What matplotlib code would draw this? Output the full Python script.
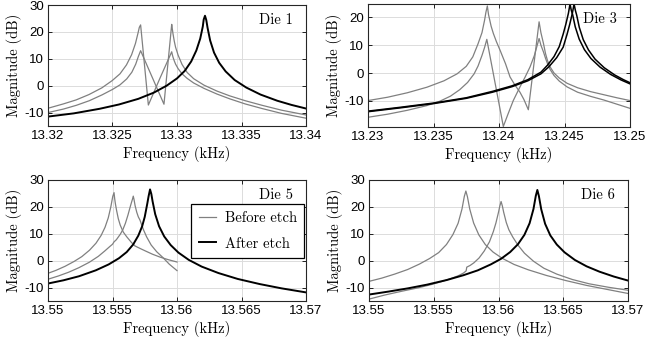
import matplotlib
matplotlib.use('Agg')
import matplotlib.pyplot as plt

plt.rcParams['axes.unicode_minus'] = False

# ---- Die 1 ----
d1_f_a = [13.320, 13.32118, 13.32218, 13.32318, 13.32418, 13.32498, 13.32558, 13.32608, 13.32648, 13.32678,
          13.32698, 13.32708, 13.32718, 13.32778, 13.3287, 13.32959,
          13.32964, 13.32969, 13.32979, 13.32989, 13.33009, 13.33039, 13.33079, 13.33129, 13.33209, 13.33309,
          13.33409, 13.33529, 13.33659, 13.33809, 13.340]
d1_m_a = [-8.4, -6.8, -5.3, -3.3, -0.8, 1.9, 4.4, 7.7, 11.5, 15.7,
          19.6, 21.7, 22.6, -7.2, 3.0, 12.6,
          11.5, 10.6, 9.2, 8.0, 6.3, 4.4, 2.7, 1.0, -1.0, -3.1,
          -4.9, -6.8, -8.5, -10.3, -12.1]
d1_f_b = [13.320, 13.3212, 13.3222, 13.3232, 13.3242, 13.325, 13.32558, 13.3261, 13.3265, 13.3268, 13.3270, 13.32718,
          13.32899, 13.32959,
          13.32964, 13.32969, 13.32979, 13.32989, 13.33009, 13.33039, 13.33079, 13.33129, 13.33209, 13.33309,
          13.33409, 13.33529, 13.33659, 13.33809, 13.340]
d1_m_b = [-10.0, -8.7, -7.3, -5.6, -3.4, -1.4, 0.3, 2.5, 5.0, 8.0, 10.8, 13.0,
          -6.9, 22.8,
          21.0, 19.3, 16.5, 14.3, 11.3, 7.9, 4.9, 2.6, 0.2, -2.0,
          -3.8, -5.6, -7.3, -9.1, -10.9]
d1_f_after = [13.320, 13.322, 13.324, 13.3255, 13.327, 13.3282, 13.3292, 13.330, 13.3306, 13.3311, 13.3315, 13.3318,
              13.3320, 13.33207, 13.33217,
              13.33227, 13.33237, 13.33257, 13.33287, 13.33327, 13.33377, 13.33447, 13.33537, 13.33647, 13.33777,
              13.33887, 13.340]
d1_m_after = [-11.5, -10.3, -8.6, -7.0, -4.9, -2.6, 0.0, 2.7, 5.5, 9.0, 13.1, 17.5,
              22.0, 24.6, 26.0,
              24.4, 21.5, 16.8, 12.3, 8.5, 5.3, 2.1, -0.7, -3.3, -5.6,
              -7.15, -8.5]

# ---- Die 3 ----
d3_f_a = [13.230, 13.2315, 13.233, 13.2345, 13.2358, 13.2368, 13.2375, 13.2380, 13.2384, 13.2387, 13.2389, 13.2390,
          13.23911, 13.2392, 13.2394, 13.23957, 13.2398, 13.24008, 13.2405, 13.24084, 13.2412, 13.2416, 13.2419,
          13.24224, 13.24306, 13.2432, 13.2434, 13.24355, 13.2437, 13.2439, 13.2442, 13.2446, 13.2452, 13.246,
          13.247, 13.248, 13.249, 13.250]
d3_m_a = [-9.9, -8.7, -7.1, -5.1, -2.8, -0.3, 2.4, 5.8, 10.5, 14.5, 19.0, 21.8,
          24.1, 21.0, 16.8, 14.2, 11.3, 8.2, 3.3, -1.4, -4.2, -6.9, -9.5,
          -13.2, 18.4, 14.5, 10.5, 7.0, 4.5, 2.2, 0.0, -1.8, -3.7, -5.3,
          -6.7, -7.8, -8.9, -9.9]
d3_f_b = [13.230, 13.2315, 13.233, 13.2345, 13.2355, 13.2363, 13.2370, 13.2376, 13.2381, 13.2384, 13.2387, 13.2389,
          13.23907, 13.24033, 13.2407, 13.24109, 13.2416, 13.242, 13.24237, 13.2427, 13.24306,
          13.2432, 13.2434, 13.24355, 13.2437, 13.2439, 13.2442, 13.2446, 13.2452, 13.246, 13.247, 13.248,
          13.249, 13.250]
d3_m_b = [-15.9, -14.8, -13.4, -11.7, -10.1, -8.3, -6.0, -3.4, -0.3, 2.5, 6.3, 9.2,
          12.1, -19.2, -14.6, -9.9, -5.0, -1.4, 2.2, 6.3, 12.4,
          10.0, 7.5, 5.3, 3.4, 1.3, -0.9, -2.9, -5.0, -6.9, -8.4, -9.7,
          -11.2, -12.7]
d3_f_after1 = [13.230, 13.2325, 13.235, 13.2375, 13.2395, 13.241, 13.2422, 13.2432, 13.2437, 13.2442, 13.2446,
               13.2449, 13.2451, 13.2453, 13.24542,
               13.24552, 13.24562, 13.24582, 13.24612, 13.24652, 13.24702, 13.24772, 13.24852, 13.24932, 13.250]
d3_m_after1 = [-13.7, -12.3, -10.8, -8.9, -6.6, -4.6, -2.4, 0.3, 2.8, 5.9, 9.5,
               14.0, 17.5, 21.5, 24.8,
               22.5, 21.0, 16.6, 12.2, 8.4, 5.2, 2.1, -0.5, -2.5, -3.9]
d3_f_after2 = [13.230, 13.2325, 13.235, 13.2375, 13.2395, 13.241, 13.2422, 13.2432, 13.2438, 13.2444, 13.2449,
               13.2452, 13.2454, 13.2456, 13.24573,
               13.24583, 13.24593, 13.24613, 13.24643, 13.24683, 13.24733, 13.24803, 13.24883, 13.2495, 13.250]
d3_m_after2 = [-13.9, -12.5, -11.0, -9.1, -6.9, -4.9, -2.8, -0.3, 2.2, 5.5, 9.3,
               14.0, 17.5, 21.5, 24.8,
               22.5, 20.8, 16.4, 12.0, 8.3, 5.0, 1.9, -0.7, -2.4, -3.5]

# ---- Die 5 ----
d5_f_a = [13.550, 13.55062, 13.55132, 13.55202, 13.55262, 13.55322, 13.55372, 13.55412, 13.55442, 13.55467,
          13.55487, 13.55502, 13.55512,
          13.55517, 13.55522, 13.55532, 13.55545, 13.5556, 13.55584, 13.5561, 13.55636, 13.5565, 13.5566,
          13.5567, 13.5569, 13.5572, 13.5576, 13.5581, 13.5587, 13.5593, 13.560]
d5_m_a = [-4.7, -3.6, -2.1, -0.3, 1.5, 3.9, 6.5, 9.4, 12.4, 15.9,
          20.0, 23.9, 25.3,
          23.0, 21.3, 18.6, 15.6, 13.2, 10.6, 8.9, 7.4, 6.6, 6.3,
          5.6, 5.1, 4.4, 3.5, 2.4, 1.3, 0.4, -0.5]
d5_f_b = [13.550, 13.5508, 13.5516, 13.5524, 13.5532, 13.5539, 13.5544, 13.5548, 13.5550, 13.55512, 13.5553,
          13.5556, 13.5558, 13.5560, 13.5562, 13.5564, 13.55655, 13.55661,
          13.55667, 13.55675, 13.55688, 13.5570, 13.55713, 13.5574, 13.55765, 13.5580, 13.55843, 13.5589,
          13.5594, 13.560]
d5_m_b = [-6.9, -5.7, -4.3, -2.6, -0.6, 1.6, 3.6, 5.3, 6.1, 7.0, 7.8,
          9.8, 11.5, 13.9, 17.0, 20.5, 22.9, 24.0,
          22.7, 20.5, 18.0, 16.3, 15.1, 11.5, 8.8, 5.8, 3.3, 1.2,
          -1.3, -3.7]
d5_f_after = [13.550, 13.5512, 13.5524, 13.5537, 13.5547, 13.5555, 13.5561, 13.5566, 13.557, 13.5573, 13.5575,
              13.5577, 13.5578, 13.55791,
              13.55801, 13.55811, 13.55831, 13.55861, 13.55901, 13.55951, 13.56011, 13.56091, 13.56191,
              13.56321, 13.56471, 13.56641, 13.56811, 13.570]
d5_m_after = [-8.5, -7.3, -5.8, -3.6, -1.4, 0.9, 3.2, 6.0, 9.3, 12.8, 16.3,
              21.3, 24.0, 26.5,
              24.8, 22.0, 17.3, 12.8, 9.0, 5.8, 3.0, 0.3, -2.2,
              -4.6, -6.8, -8.7, -10.3, -11.8]

# ---- Die 6 ----
d6_f_a = [13.550, 13.55098, 13.55198, 13.55298, 13.55388, 13.55468, 13.55538, 13.55598, 13.55648, 13.55688,
          13.55718, 13.55736, 13.55748,
          13.5576, 13.55778, 13.55808, 13.55848, 13.55898, 13.55958, 13.56028, 13.5612, 13.5623, 13.5637,
          13.5652, 13.5668, 13.5685, 13.570]
d6_m_a = [-7.7, -6.5, -5.0, -3.3, -1.3, 0.8, 3.0, 6.0, 9.7, 13.9,
          19.2, 23.9, 25.9,
          23.8, 19.2, 14.0, 9.6, 6.0, 3.2, 0.9, -1.4, -3.4, -5.5,
          -7.4, -9.2, -10.8, -12.2]
d6_f_b = [13.550, 13.5512, 13.5525, 13.5538, 13.5548, 13.5556, 13.5563, 13.5569, 13.5573, 13.5575, 13.55755,
          13.5578, 13.5581, 13.5585, 13.5589, 13.5593, 13.5596, 13.5598, 13.5600, 13.5601, 13.5602,
          13.5603, 13.5604, 13.5606, 13.5608, 13.5611, 13.5615, 13.562, 13.5627, 13.5635, 13.5645, 13.5657,
          13.567, 13.5685, 13.570]
d6_m_b = [-14.3, -12.8, -11.4, -10.1, -8.9, -7.8, -6.7, -5.6, -4.6, -3.8, -2.4,
          -1.8, -0.8, 1.0, 3.6, 7.0, 10.8, 14.0, 18.0, 20.3, 22.0,
          20.3, 18.0, 14.2, 11.5, 8.8, 5.8, 2.8, -0.2, -2.8, -5.0, -7.0,
          -8.6, -9.9, -11.0]
d6_f_after = [13.550, 13.5515, 13.553, 13.5545, 13.556, 13.5573, 13.5584, 13.5594, 13.5602, 13.5609, 13.5615,
              13.562, 13.5624, 13.5627, 13.56288, 13.5630,
              13.56312, 13.5633, 13.5636, 13.564, 13.5645, 13.5651, 13.5659, 13.5668, 13.5678, 13.5689, 13.570]
d6_m_after = [-12.6, -11.5, -10.3, -8.9, -7.2, -5.4, -3.6, -1.4, 0.7, 3.2, 6.1,
              9.6, 13.9, 19.2, 24.1, 26.3,
              24.0, 19.1, 13.7, 9.4, 6.0, 3.1, 0.25, -2.1, -4.1, -5.9, -7.4]

# ticks
xt_die1 = [13.32, 13.325, 13.33, 13.335, 13.34]
xl_die1 = ['13.32', '13.325', '13.33', '13.335', '13.34']
xt_die3 = [13.23, 13.235, 13.24, 13.245, 13.25]
xl_die3 = ['13.23', '13.235', '13.24', '13.245', '13.25']
xt_die56 = [13.55, 13.555, 13.56, 13.565, 13.57]
xl_die56 = ['13.55', '13.555', '13.56', '13.565', '13.57']
yt_main = [-10, 0, 10, 20, 30]
yt_die3 = [-10, 0, 10, 20]

GRAY = '#808080'
TICKFONT = 'Liberation Sans'
SERIF = 'cmr10'

fig = plt.figure(figsize=(6.47, 3.45), dpi=100)
W, H = 647.0, 345.0

def make_ax(l, r, t, b):
    return fig.add_axes([l / W, (H - b) / H, (r - l) / W, (b - t) / H])

def style(ax, xlim, ylim, xt, xl, yt, name):
    ax.set_xlim(xlim)
    ax.set_ylim(ylim)
    ax.set_xticks(xt)
    ax.set_xticklabels(xl, fontfamily=TICKFONT, fontsize=9.5)
    ax.set_yticks(yt)
    ax.set_yticklabels([str(v) for v in yt], fontfamily=TICKFONT, fontsize=9.5)
    ax.tick_params(direction='in', length=3, width=0.6, top=True, right=True, pad=3)
    ax.grid(True, color='#dcdcdc', lw=0.7)
    ax.set_axisbelow(True)
    for s in ax.spines.values():
        s.set_linewidth(0.8)
        s.set_color('#262626')
    ax.set_xlabel('Frequency (kHz)', fontfamily=SERIF, fontsize=10.5, labelpad=3)
    ax.set_ylabel('Magnitude (dB)', fontfamily=SERIF, fontsize=10.5, labelpad=2)
    ax.text(0.95, 0.875, name, transform=ax.transAxes, ha='right', va='center',
            fontfamily=SERIF, fontsize=10.5)

# Die 1
ax1 = make_ax(48, 306, 5, 126)
ax1.plot(d1_f_a, d1_m_a, color=GRAY, lw=0.9)
ax1.plot(d1_f_b, d1_m_b, color=GRAY, lw=0.9)
ax1.plot(d1_f_after, d1_m_after, color='black', lw=1.4)
style(ax1, (13.32, 13.34), (-15, 30), xt_die1, xl_die1, yt_main, 'Die 1')

# Die 3 (y axis tight to the data, as in the original)
ax2 = make_ax(368, 630, 4, 127)
ax2.plot(d3_f_a, d3_m_a, color=GRAY, lw=0.9)
ax2.plot(d3_f_b, d3_m_b, color=GRAY, lw=0.9)
ax2.plot(d3_f_after1, d3_m_after1, color='black', lw=1.1)
ax2.plot(d3_f_after2, d3_m_after2, color='black', lw=1.1)
lo = min(min(d3_m_a), min(d3_m_b), min(d3_m_after1), min(d3_m_after2))
hi = max(max(d3_m_a), max(d3_m_b), max(d3_m_after1), max(d3_m_after2))
style(ax2, (13.23, 13.25), (lo - 0.2, hi), xt_die3, xl_die3, yt_die3, 'Die 3')

# Die 5
ax3 = make_ax(48, 306, 180, 301)
hb, = ax3.plot(d5_f_a, d5_m_a, color=GRAY, lw=0.9)
ax3.plot(d5_f_b, d5_m_b, color=GRAY, lw=0.9)
ha, = ax3.plot(d5_f_after, d5_m_after, color='black', lw=1.4)
style(ax3, (13.55, 13.57), (-15, 30), xt_die56, xl_die56, yt_main, 'Die 5')
leg = ax3.legend([hb, ha], ['Before etch', 'After etch'], loc='upper right',
                 bbox_to_anchor=(0.993, 0.80), prop={'family': SERIF, 'size': 10.5},
                 fancybox=False, framealpha=1, edgecolor='black', handlelength=1.2,
                 handletextpad=0.6, borderpad=0.5, labelspacing=0.8, borderaxespad=0)
leg.get_frame().set_linewidth(0.9)

# Die 6
ax4 = make_ax(369, 628, 180, 301)
ax4.plot(d6_f_a, d6_m_a, color=GRAY, lw=0.9)
ax4.plot(d6_f_b, d6_m_b, color=GRAY, lw=0.9)
ax4.plot(d6_f_after, d6_m_after, color='black', lw=1.4)
style(ax4, (13.55, 13.57), (-15, 30), xt_die56, xl_die56, yt_main, 'Die 6')

fig.savefig('out.png', dpi=100)
